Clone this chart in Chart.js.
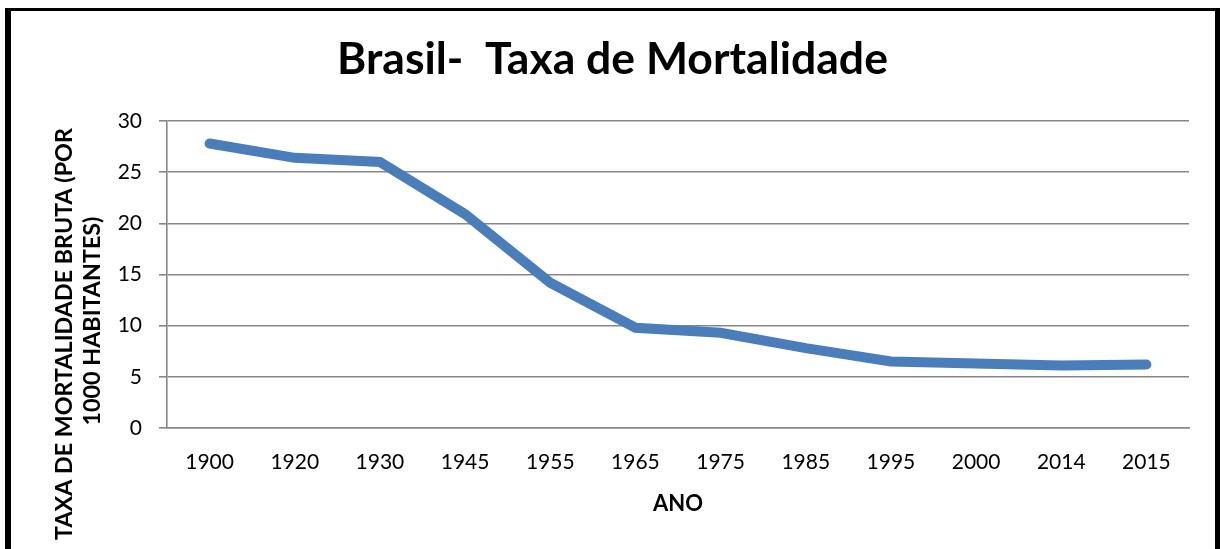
<!DOCTYPE html>
<html><head><meta charset="utf-8">
<script src="https://cdn.jsdelivr.net/npm/chart.js@4.4.1/dist/chart.umd.min.js"></script>
<style>
html,body{margin:0;padding:0;background:#fff;overflow:hidden;width:1220px;height:549px;}
#frame{position:absolute;left:5px;top:8px;width:1215px;height:600px;box-sizing:border-box;border-left:6px solid #000;border-top:3px solid #000;border-right:5px solid #000;}
#wrap{position:absolute;left:0;top:0;width:1220px;height:549px;}
</style></head><body>
<div id="frame"></div>
<div id="wrap"><canvas id="c" width="1220" height="549"></canvas></div>
<script>
const categories = ['1900','1920','1930','1945','1955','1965','1975','1985','1995','2000','2014','2015'];
const mortalityRate = [27.8, 26.4, 26.0, 20.9, 14.2, 9.8, 9.3, 7.8, 6.5, 6.3, 6.1, 6.2];
const yTicks = [0, 5, 10, 15, 20, 25, 30];
const chartTitle = 'Brasil-  Taxa de Mortalidade';
const xTitle = 'ANO';
const yTitleLines = ['TAXA DE MORTALIDADE BRUTA (POR', '1000 HABITANTES)'];

const FAMILY = 'Lato, "Open Sans", sans-serif';
function fitSize(text, weight, target) {
  const c = document.createElement('canvas').getContext('2d');
  c.font = weight + ' 100px ' + FAMILY;
  return 100 * target / c.measureText(text).width;
}
const titleSize = fitSize(chartTitle, 'bold', 551);
const yTitleSize = fitSize(yTitleLines[0], 'bold', 412);
const GRID = '#878787';

const yTitlePlugin = {
  id: 'yTitle',
  afterLayout(chart) {
    // centre the chart title on the whole frame, as in the original
    const t = chart.titleBlock;
    if (t) { t.left = 36; t.width = t.right - t.left; }
  },
  afterDraw(chart) {
    const ctx = chart.ctx;
    const pos = [[72, 334], [100, 321]];
    ctx.save();
    ctx.font = 'bold ' + yTitleSize + 'px ' + FAMILY;
    ctx.fillStyle = '#000';
    ctx.textAlign = 'center';
    ctx.textBaseline = 'alphabetic';
    yTitleLines.forEach((line, i) => {
      ctx.save();
      ctx.translate(pos[i][0], pos[i][1]);
      ctx.rotate(-Math.PI / 2);
      ctx.fillText(line, 0, 0);
      ctx.restore();
    });
    ctx.restore();
  }
};

new Chart(document.getElementById('c'), {
  type: 'line',
  data: {
    labels: categories,
    datasets: [{
      data: mortalityRate,
      borderColor: '#4a7ebb',
      borderWidth: 10,
      borderCapStyle: 'round',
      borderJoinStyle: 'miter',
      pointRadius: 0,
      pointHoverRadius: 0,
      tension: 0,
      fill: false
    }]
  },
  options: {
    responsive: false,
    animation: false,
    devicePixelRatio: 1,
    layout: { padding: { left: 0, right: 31, top: 0, bottom: 0 } },
    plugins: {
      legend: { display: false },
      tooltip: { enabled: false },
      title: {
        display: true,
        text: chartTitle,
        color: '#000',
        font: { family: FAMILY, size: titleSize, weight: 'bold', lineHeight: '44px' },
        padding: { top: 38, bottom: 39 }
      }
    },
    scales: {
      x: {
        type: 'category',
        offset: true,
        grid: { display: false, drawTicks: false },
        border: { display: true, color: GRID, width: 1.6 },
        ticks: { color: '#000', font: { family: FAMILY, size: 21 }, padding: 22, maxRotation: 0, autoSkip: false },
        title: { display: true, text: xTitle, color: '#000', font: { family: FAMILY, size: 22, weight: 'bold' }, padding: { top: 0, bottom: 32 } },
        afterFit(scale) { scale.height = 121; }
      },
      y: {
        min: 0,
        max: 30,
        afterBuildTicks(scale) { scale.ticks = yTicks.map(v => ({ value: v })); },
        grid: { color: GRID, lineWidth: 1.6, tickLength: 8, drawTicks: true },
        border: { display: true, color: GRID, width: 1.6 },
        ticks: { color: '#000', font: { family: FAMILY, size: 21 }, padding: 17 },
        afterFit(scale) { scale.width = 167; }
      }
    }
  },
  plugins: [yTitlePlugin]
});
</script>
</body></html>
